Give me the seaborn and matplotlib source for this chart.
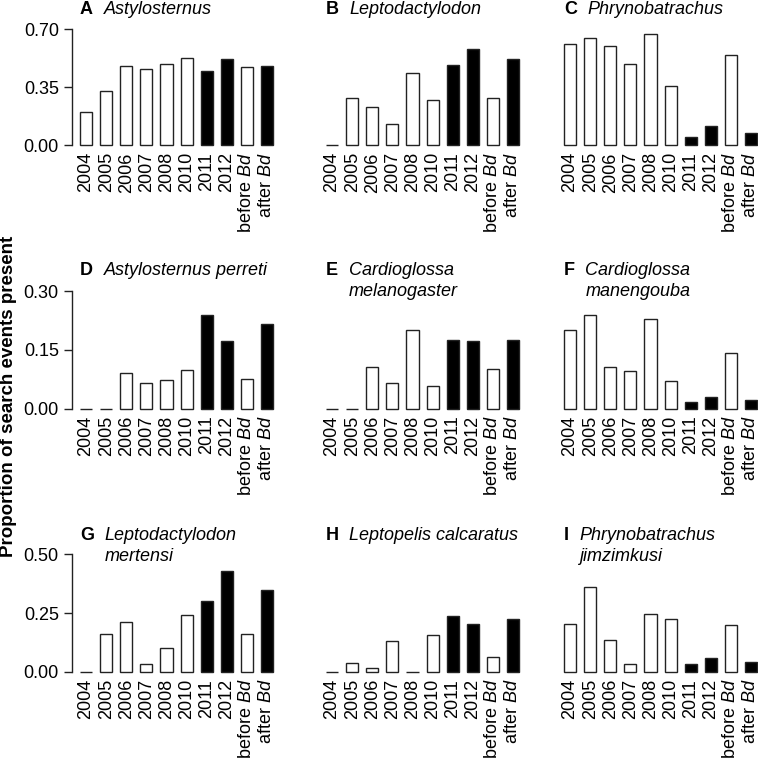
import matplotlib
matplotlib.use("Agg")
import matplotlib.pyplot as plt
import seaborn as sns
import pandas as pd

# x categories and which ones are after the Bd arrival (filled black)
categories = ["2004", "2005", "2006", "2007", "2008", "2010", "2011", "2012",
              "before Bd", "after Bd"]
phases = ["pre", "pre", "pre", "pre", "pre", "pre", "post", "post", "pre", "post"]
tick_labels = ["2004", "2005", "2006", "2007", "2008", "2010", "2011", "2012",
               "before $\\mathit{Bd}$", "after $\\mathit{Bd}$"]

letters = ["A", "B", "C", "D", "E", "F", "G", "H", "I"]
species = ["Astylosternus", "Leptodactylodon", "Phrynobatrachus",
           "Astylosternus perreti", "Cardioglossa\nmelanogaster", "Cardioglossa\nmanengouba",
           "Leptodactylodon\nmertensi", "Leptopelis calcaratus", "Phrynobatrachus\njimzimkusi"]

# proportion of search events with the species present
vals_a = [0.199, 0.326, 0.475, 0.457, 0.490, 0.527, 0.450, 0.520, 0.472, 0.475]
vals_b = [0.000, 0.283, 0.231, 0.130, 0.434, 0.273, 0.483, 0.579, 0.283, 0.519]
vals_c = [0.609, 0.647, 0.597, 0.489, 0.667, 0.356, 0.050, 0.116, 0.545, 0.074]
vals_d = [0.000, 0.000, 0.092, 0.065, 0.072, 0.099, 0.238, 0.173, 0.075, 0.215]
vals_e = [0.000, 0.000, 0.106, 0.065, 0.200, 0.057, 0.176, 0.173, 0.101, 0.175]
vals_f = [0.200, 0.240, 0.107, 0.097, 0.229, 0.071, 0.016, 0.031, 0.142, 0.021]
vals_g = [0.000, 0.161, 0.213, 0.033, 0.102, 0.241, 0.303, 0.430, 0.161, 0.349]
vals_h = [0.000, 0.040, 0.017, 0.132, 0.000, 0.156, 0.240, 0.203, 0.064, 0.227]
vals_i = [0.203, 0.362, 0.136, 0.033, 0.246, 0.227, 0.034, 0.058, 0.199, 0.043]
all_vals = [vals_a, vals_b, vals_c, vals_d, vals_e, vals_f, vals_g, vals_h, vals_i]

row_ticks = [[0.0, 0.35, 0.70], [0.0, 0.15, 0.30], [0.0, 0.25, 0.50]]

sns.set_style("ticks")
plt.rcParams["font.family"] = ["Liberation Sans", "DejaVu Sans"]
plt.rcParams["mathtext.fontset"] = "custom"
plt.rcParams["mathtext.rm"] = "Liberation Sans"
plt.rcParams["mathtext.it"] = "Liberation Sans:italic"
plt.rcParams["text.color"] = "black"
plt.rcParams["xtick.color"] = "black"
plt.rcParams["ytick.color"] = "black"

W, H = 758, 766
fig = plt.figure(figsize=(W / 100, H / 100), dpi=100)

# layout in pixels
col_left = [72, 318, 556]
row_bottom = [145.3, 408.7, 672.0]
row_top = [29.0, 291.0, 554.3]
title_base = [14, 275, 540]
pitch = 20.1
x_lo, x_hi = -0.7, 9.6
fs = 13

for i in range(9):
    r, c = divmod(i, 3)
    left = col_left[c]
    width = (x_hi - x_lo) * pitch
    ax = fig.add_axes([left / W, 1 - row_bottom[r] / H, width / W,
                       (row_bottom[r] - row_top[r]) / H])
    df = pd.DataFrame({"cat": categories, "value": all_vals[i], "phase": phases})
    sns.barplot(data=df, x="cat", y="value", hue="phase", order=categories,
                hue_order=["pre", "post"], palette={"pre": "white", "post": "black"},
                dodge=False, width=0.6, edgecolor="#222222", linewidth=1.0,
                errorbar=None, legend=False, ax=ax)
    for p in ax.patches:
        p.set_clip_on(False)

    ticks = row_ticks[r]
    ax.set_xlim(x_lo, x_hi)
    ax.set_ylim(0, ticks[-1])
    ax.set_xticks(range(len(categories)))
    ax.set_xticklabels(tick_labels, rotation=90, fontsize=fs, color="black")
    ax.tick_params(axis="x", length=0, pad=5)
    ax.set_xlabel("")
    ax.set_ylabel("")
    for s in ["top", "right", "bottom"]:
        ax.spines[s].set_visible(False)
    if c == 0:
        ax.set_yticks(ticks)
        ax.set_yticklabels([f"{t:.2f}" for t in ticks], fontsize=fs, color="black")
        ax.spines["left"].set_bounds(0, ticks[-1])
        ax.spines["left"].set_linewidth(1.0)
        ax.spines["left"].set_color("#222222")
        ax.tick_params(axis="y", length=5.5, width=1.0, pad=4, color="#222222")
    else:
        ax.spines["left"].set_visible(False)
        ax.set_yticks([])

    # panel title: bold letter then italic species name
    x_letter = left + (-0.3 - x_lo) * pitch
    lt = fig.text(x_letter / W, 1 - title_base[r] / H, letters[i],
                  fontsize=fs, fontweight="bold", va="baseline", ha="left")
    for k, line in enumerate(species[i].split("\n")):
        ax.annotate(line, xy=(1, 0), xycoords=lt, xytext=(7.5, -k * 15.3),
                    textcoords="offset points", fontsize=fs, fontstyle="italic",
                    ha="left", va="bottom", annotation_clip=False)

fig.text(9 / W, 1 - 396 / H, "Proportion of search events present", rotation=90,
         fontsize=13.5, fontweight="bold", ha="center", va="center")

fig.savefig("out.png", dpi=100)
